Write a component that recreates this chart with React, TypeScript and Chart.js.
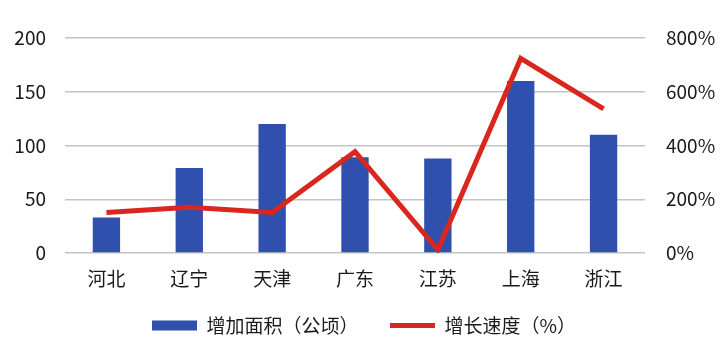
import React, { useEffect, useRef } from "react";
import { Chart, registerables } from "chart.js";

Chart.register(...registerables);

const categories = ["河北", "辽宁", "天津", "广东", "江苏", "上海", "浙江"];
const areaValues = [33, 79, 120, 89, 88, 160, 110];
const growthValues = [151, 170, 151, 377, 12, 724, 536];
const leftTicks = [0, 50, 100, 150, 200];
const rightTicks = [0, 200, 400, 600, 800];
const areaLabel = "增加面积（公顷）";
const growthLabel = "增长速度（%）";

const FONT = "'Noto Sans CJK SC', 'Noto Sans', sans-serif";
const TEXT = "#1a1a1a";

export default function App() {
  const ref = useRef<HTMLCanvasElement | null>(null);
  useEffect(() => {
    if (!ref.current) return;
    const chart = new Chart(ref.current, {
      data: {
        labels: categories,
        datasets: [
          {
            type: "line",
            label: growthLabel,
            data: growthValues,
            yAxisID: "y1",
            borderColor: "#d9261f",
            backgroundColor: "#d9261f",
            borderWidth: 5,
            pointRadius: 0,
            pointStyle: "line",
            tension: 0,
            order: 0,
          } as any,
          {
            type: "bar",
            label: areaLabel,
            data: areaValues,
            yAxisID: "y",
            backgroundColor: "#2f50ad",
            borderWidth: 0,
            barPercentage: 0.33,
            categoryPercentage: 1,
            pointStyle: "rect",
            order: 1,
          } as any,
        ],
      },
      options: {
        animation: false,
        responsive: true,
        maintainAspectRatio: false,
        layout: { padding: { top: 38, left: 10, right: 10, bottom: 10 } },
        plugins: {
          tooltip: { enabled: false },
          legend: {
            position: "bottom",
            reverse: true,
            labels: {
              usePointStyle: true,
              pointStyleWidth: 45,
              boxHeight: 10,
              padding: 22,
              color: TEXT,
              font: { family: FONT, size: 19 },
              generateLabels: (c: any) => {
                const items = Chart.defaults.plugins.legend.labels.generateLabels(c);
                return items.map((it: any) =>
                  it.datasetIndex === 1 ? { ...it, text: it.text + "\u3000" } : it
                );
              },
            },
          },
        },
        scales: {
          x: {
            grid: { display: false },
            border: { display: false },
            ticks: { color: TEXT, font: { family: FONT, size: 19 }, padding: 6 },
            afterFit: (axis: any) => {
              axis.height = 41;
            },
          },
          y: {
            position: "left",
            min: 0,
            max: 200,
            afterBuildTicks: (axis: any) => {
              axis.ticks = leftTicks.map((v) => ({ value: v }));
            },
            afterFit: (axis: any) => {
              axis.width = 55;
            },
            grid: { color: "#c4c4c4", lineWidth: 1.5, drawTicks: false },
            border: { display: false },
            ticks: { color: TEXT, font: { family: FONT, size: 19 }, padding: 19 },
          },
          y1: {
            position: "right",
            min: 0,
            max: 800,
            afterBuildTicks: (axis: any) => {
              axis.ticks = rightTicks.map((v) => ({ value: v }));
            },
            afterFit: (axis: any) => {
              axis.width = 73;
            },
            grid: { drawOnChartArea: false, drawTicks: false },
            border: { display: false },
            ticks: {
              color: TEXT,
              font: { family: FONT, size: 19 },
              padding: 21,
              callback: (v: any) => `${v}%`,
            },
          },
        },
      },
    });
    return () => chart.destroy();
  }, []);
  return (
    <div style={{ position: "fixed", left: 0, top: 0, width: 728, height: 355, background: "#fff" }}>
      <canvas ref={ref} />
    </div>
  );
}
